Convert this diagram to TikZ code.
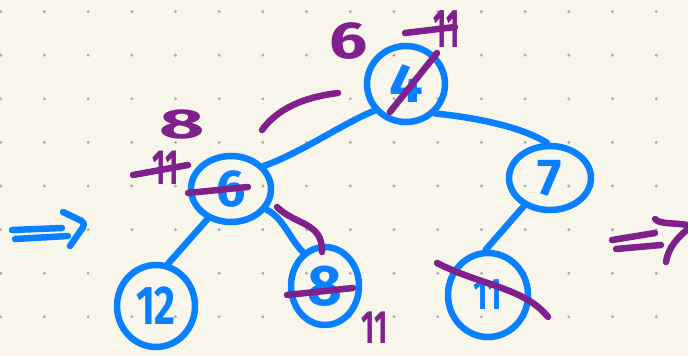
\documentclass[tikz,border=0pt]{standalone}
\usepackage{fontspec}
\setmainfont{Fira Sans}
\usetikzlibrary{shapes.geometric}
\definecolor{paper}{RGB}{248,246,235}
\definecolor{gridgrey}{RGB}{172,170,162}
\definecolor{ink}{RGB}{8,128,255}
\definecolor{pen}{RGB}{128,32,140}
% hand-sized figure: horizontal scale, vertical scale, text
\newcommand\handfig[3]{\scalebox{#1}[#2]{#3}}
\begin{document}
\begin{tikzpicture}[x=1pt,y=-1pt,
  heapnode/.style={ellipse, draw=ink, line width=6.5pt, inner sep=0pt,
    text=ink, font=\fontsize{52}{52}\selectfont\bfseries},
  note/.style={text=pen, inner sep=0pt, font=\fontsize{52}{52}\selectfont\bfseries},
  pen stroke/.style={line width=6.5pt, line cap=round, line join=round},
  edge/.style={pen stroke, draw=ink},
  mark stroke/.style={pen stroke, draw=pen}]

% paper and dot grid
\fill[paper] (0,0) rectangle (688,356);
\useasboundingbox (0,0) rectangle (688,356);
\clip (0,0) rectangle (688,356);
\foreach \i in {0,...,15}
  \foreach \j in {0,...,7}
    \fill[gridgrey] ({0.7+43.7*\i},{11.6+43.6*\j}) circle (1.6pt);

% heap nodes
\node[heapnode, minimum width=78pt, minimum height=76pt] (n4)  at (406,84)  {\handfig{1.15}{1.05}{4}};
\node[heapnode, minimum width=80pt, minimum height=66pt] (n6)  at (231,189) {\handfig{1.0}{1.0}{6}};
\node[heapnode, minimum width=82pt, minimum height=64pt] (n7)  at (550,178) {\handfig{1.0}{1.0}{7}};
\node[heapnode, minimum width=78pt, minimum height=82pt] (n12) at (156,306) {\handfig{0.78}{1.05}{12}};
\node[heapnode, minimum width=68pt, minimum height=78pt] (n8)  at (325,286) {\handfig{1.15}{1.1}{8}};
\node[heapnode, minimum width=80pt, minimum height=84pt] (n11) at (488,295) {\handfig{0.6}{0.85}{11}};

% tree edges
\draw[edge] (n4.220) .. controls +(-30,12) and +(35,-12) .. (n6.35);
\draw[edge] (n4.-45) .. controls +(40,4) and +(-25,-16) .. (n7.95);
\draw[edge] (n6.232) -- (n12.74);
\draw[edge] (n6.-30) .. controls +(18,10) and +(-14,-14) .. (n8.123);
\draw[edge] (n7.227) -- (n11.93);

% blue arrow on the left
\draw[edge] (12,230) -- (62,228);
\draw[edge] (15,239) -- (68,236);
\draw[edge, rounded corners=5pt] (63,212) -- (86,223) -- (70,246);

% corrections in purple
\node[note] (r6) at (349,41) {\handfig{1.3}{1.0}{6}};
\node[note] (r11) at (447,29) {\handfig{0.55}{1.05}{11}};
\draw[mark stroke] (405,33) -- (455,27);
\draw[mark stroke] (390,112) -- (437,53);

\node[note] (l8) at (182,124) {\handfig{1.5}{0.8}{8}};
\node[note] (l11) at (166,168) {\handfig{0.55}{0.95}{11}};
\draw[mark stroke] (133,175) -- (188,165);
\draw[mark stroke] (188,193) -- (248,187);

\node[note] (b11) at (375,328) {\handfig{0.55}{0.9}{11}};
\draw[mark stroke] (287,295) -- (353,288);
\draw[mark stroke] (437,263) .. controls (480,285) and (525,288) .. (548,317);

% swap marks beside the edges
\draw[mark stroke] (262,130) .. controls (278,108) and (305,97) .. (338,93);
\draw[mark stroke] (277,207) .. controls (295,225) and (323,222) .. (322,252);

% purple arrow on the right
\draw[mark stroke] (612,240) -- (655,233);
\draw[mark stroke] (616,249) -- (661,245);
\draw[mark stroke] (655,219) .. controls (660,225) and (676,222) .. (692,226)
  .. controls (678,236) and (668,248) .. (666,262);
\end{tikzpicture}
\end{document}
